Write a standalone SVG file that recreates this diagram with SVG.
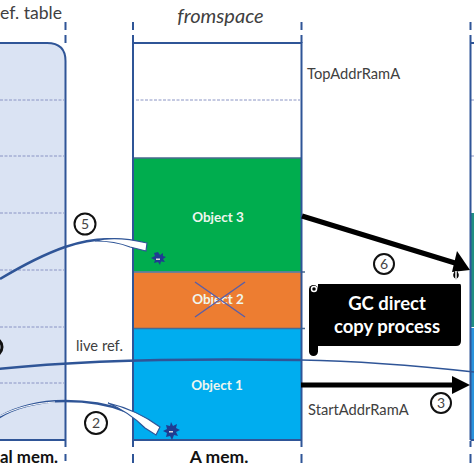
<svg xmlns="http://www.w3.org/2000/svg" width="474" height="474" viewBox="0 0 474 474">
<style>
.edge{fill:none;stroke:#2f5597;stroke-width:2}
.dash{fill:none;stroke:#2f5597;stroke-width:2}
.grid{fill:none;stroke:#8a94c4;stroke-width:1;stroke-dasharray:3 1.5}
.t{font-family:Lato,"Liberation Sans",sans-serif;fill:#404040}
.b{font-family:Lato,"Liberation Sans",sans-serif;font-weight:700}
.obj{font-family:Lato,"Liberation Sans",sans-serif;font-weight:700;font-size:13.500px;fill:#eef6ee;text-anchor:middle}
.circ{fill:#fff;stroke:#111;stroke-width:2}
.num{font-family:Lato,"Liberation Sans",sans-serif;font-size:14px;fill:#444;text-anchor:middle}
.ref{fill:none;stroke:#2f5597;stroke-width:2.500}
.thick{fill:none;stroke:#000;stroke-width:5}
</style>
<rect width="474" height="474" fill="#fff"/>
<g id="reftable">
<path d="M-5 43H47Q65.500 43 65.500 61V440H-5Z" fill="#dae3f3" stroke="#2f5597" stroke-width="2"/>
<path class="grid" d="M0 100H64M0 156H64M0 213H64M0 270H64M0 327H64M0 383H64"/>
<path class="dash" d="M65.500 22V30M65.500 35V43M65.500 441V447M65.500 454V461"/>
<text class="t" x="0" y="19" font-size="18" textLength="62" lengthAdjust="spacingAndGlyphs">ef. table</text>
<text class="b" x="0" y="463" font-size="17.500" fill="#111" textLength="58" lengthAdjust="spacingAndGlyphs">al mem.</text>
</g>
<g id="fromspace">
<rect x="133" y="43" width="168.500" height="115" fill="#fff"/>
<rect x="133" y="158" width="168.500" height="113.500" fill="#00ad4e"/>
<rect x="133" y="272.500" width="168.500" height="55.500" fill="#ed7d31"/>
<rect x="133" y="329" width="168.500" height="111" fill="#00adef"/>
<path class="grid" d="M136 100H300"/>
<path d="M133 158H301.500M133 272H305M133 328.500H305" stroke="#4a6a8f" stroke-width="1.500" fill="none"/>
<rect x="133" y="43" width="168.500" height="397" class="edge"/>
<path class="dash" d="M133 22V30M133 35V43M133 441V447M133 454V463M301.500 22V30M301.500 35V43M301.500 441V447M301.500 454V463"/>
<text class="t" x="220.500" y="23" font-size="20" font-style="italic" text-anchor="middle">fromspace</text>
<text class="b" x="219" y="463" font-size="17.500" fill="#111" text-anchor="middle">A mem.</text>
<text class="t" x="307" y="79" font-size="14.700">TopAddrRamA</text>
<text class="t" x="308" y="415" font-size="14.700">StartAddrRamA</text>
</g>
<g id="object3"><text class="obj" x="218" y="222">Object 3</text></g>
<g id="object2"><text class="obj" x="218" y="304">Object 2</text>
<path d="M195 282L245 317M245 282L195 317" stroke="#5a5fa8" stroke-width="1.500" fill="none"/></g>
<g id="object1"><text class="obj" x="217" y="390">Object 1</text></g>
<g id="tospace">
<rect x="470" y="213" width="6" height="114" fill="#1f8f82"/>
<rect x="470" y="328" width="6" height="112" fill="#2a93dd"/>
<path class="grid" d="M471 100H474M471 156H474"/>
<path class="edge" d="M470.500 43V440M470.500 43H474M470.500 440H474"/>
<path class="dash" d="M470.500 22V30M470.500 35V43M470.500 441V447M470.500 454V463"/>
</g>
<g id="connectors">
<path class="ref" d="M0 279C25 264 45 254 65 247C85 240 105 238 120 240"/>
<path d="M95 241C110 237 130 239 147 243L146 251L130 247C120 243 108 241 95 241Z" fill="#fff" stroke="#2f5597" stroke-width="1.200"/>
<path class="ref" d="M-2 369C70 361 170 358 301 360"/>
<path d="M301 360C360 361 420 366 474 372" fill="none" stroke="#2f5597" stroke-width="1.500"/>
<path class="ref" d="M-2 418C15 407 40 401 65 401C90 401 110 405 125 411"/>
<path d="M0 416C15 408 35 403 55 402" fill="none" stroke="#fff" stroke-width="1"/>
<path d="M108 403C125 407 145 416 160 427L156 435L145 428C135 418 122 409 108 403Z" fill="#fff" stroke="#2f5597" stroke-width="1.200"/>
<path class="thick" d="M302 216L455 263"/>
<path d="M470 270L457 251L452 272Z" fill="#000"/>
<path class="thick" d="M301 385H455"/>
<path d="M470 385L452 376V394Z" fill="#000"/>
</g>
<g id="burst1"><path d="M158 252L160 255L163 253L163 256L166 257L163 259L165 262L161 261.500L160 265L158 262L154 263L155 260L151 258L155 256L154 253Z" fill="#1f3d91"/><rect x="156" y="258.500" width="4" height="1.500" fill="#ddd"/></g>
<g id="burst2"><path d="M171 422L173 426L177 424L176 428L180 430L176 432L178 436L174 435L172 440L170 436L166 437L167 433L163 431L167 429L166 425L170 426Z" fill="#1f3d91"/><rect x="169" y="431" width="4" height="1.500" fill="#ddd"/></g>
<g id="n5"><circle class="circ" cx="85" cy="224" r="10.500"/><text class="num" x="85" y="229">5</text></g>
<g id="n2"><circle class="circ" cx="96" cy="423" r="11"/><text class="num" x="96" y="428">2</text></g>
<g id="n6"><circle class="circ" cx="384" cy="264" r="10"/><text class="num" x="384" y="269">6</text></g>
<g id="n3"><circle class="circ" cx="441" cy="403" r="10"/><text class="num" x="441" y="408">3</text></g>
<g id="n1"><circle cx="-7" cy="347" r="9" fill="none" stroke="#111" stroke-width="3"/></g>
<g id="livetext"><text class="t" x="76" y="351" font-size="14.700">live ref.</text></g>
<g id="gc-scroll">
<path d="M318 284H460Q461 284 461 286V341Q461 346 456 346H318Z" fill="#000"/>
<rect x="309" y="285" width="9" height="71" rx="4.500" fill="#000"/>
<circle cx="314" cy="289" r="2.500" fill="none" stroke="#fff" stroke-width="1.500"/>
<path d="M456 270C453 274 453 277 456 279C459 277 459 274 456 270Z" fill="#000" stroke="#000"/>
<path d="M456 271V279" stroke="#fff" stroke-width="1.500"/>
<text class="b" x="387" y="310" font-size="18.500" fill="#fff" text-anchor="middle">GC direct</text>
<text class="b" x="387" y="333" font-size="18.500" fill="#fff" text-anchor="middle">copy process</text>
</g>
</svg>
